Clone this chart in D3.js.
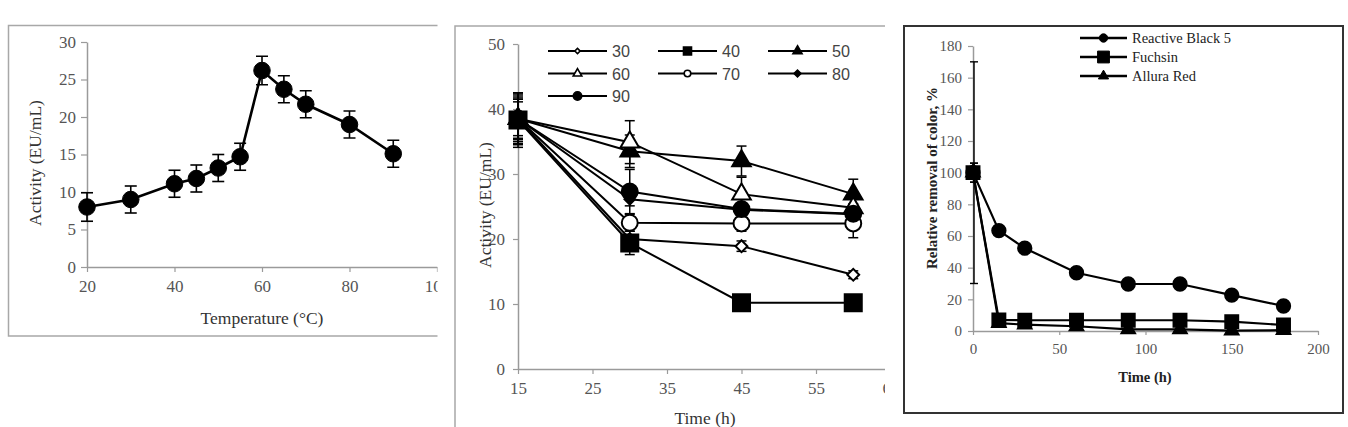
<!DOCTYPE html>
<html>
<head>
<meta charset="utf-8">
<script src="https://cdn.jsdelivr.net/npm/d3@7"></script>
<style>
  body { margin: 0; background: #fff; }
  svg { display: block; }
</style>
</head>
<body>
<div id="chart"></div>
<script>
// ---- panel 1: activity vs temperature
const tempX = [20, 30, 40, 45, 50, 55, 60, 65, 70, 80, 90];
const tempActivity = [8, 9, 11.1, 11.8, 13.2, 14.7, 26.2, 23.7, 21.7, 19, 15.1];
const tempError = [1.9, 1.8, 1.8, 1.8, 1.8, 1.8, 1.9, 1.8, 1.8, 1.8, 1.8];
const tempXTicks = [20, 40, 60, 80, 100];
const tempYTicks = [0, 5, 10, 15, 20, 25, 30];

// ---- panel 2: stability over time at several temperatures
const stabTime = [15, 30, 45, 60];
const stabNames = ["30", "40", "50", "60", "70", "80", "90"];
const stab30 = [38.5, 20, 18.9, 14.5];
const stab40 = [38.3, 19.4, 10.2, 10.2];
const stab50 = [38.5, 33.5, 32, 26.9];
const stab60 = [38.5, 34.9, 26.9, 24.8];
const stab70 = [38.5, 22.5, 22.4, 22.4];
const stab80 = [38.5, 26.1, 24.5, 23.8];
const stab90 = [38.5, 27.3, 24.6, 23.9];
const stabErr30 = [3.5, 0.6, 0.8, 0.6];
const stabErr40 = [4.2, 1.8, 0.4, 0.4];
const stabErr50 = [3.8, 2.5, 2.3, 2.3];
const stabErr60 = [3, 3.3, 2.6, 2.0];
const stabErr70 = [3.2, 1.3, 1.2, 2.2];
const stabErr80 = [2.6, 1, 0.8, 0.8];
const stabErr90 = [4, 3.4, 2.5, 1.5];
const stabXTicks = [15, 25, 35, 45, 55, 65];
const stabYTicks = [0, 10, 20, 30, 40, 50];

// ---- panel 3: dye decolorization
const dyeTime = [0, 15, 30, 60, 90, 120, 150, 180];
const dyeNames = ["Reactive Black 5", "Fuchsin", "Allura Red"];
const rb5 = [100, 63.4, 52.3, 36.8, 29.7, 29.7, 22.7, 15.8];
const fuchsin = [100, 7, 6.8, 6.8, 6.8, 6.8, 5.9, 3.8];
const allura = [100, 5, 4, 3, 1, 1, 0.3, 0.5];
const rb5Err = [6, 3, 0, 0, 0, 0, 0, 0];
const fuchsinErr = [6, 0, 0, 0, 0, 0, 0, 0];
const alluraErr = [70, 0, 0, 0, 0, 0, 0, 0];
const dyeXTicks = [0, 50, 100, 150, 200];
const dyeYTicks = [0, 20, 40, 60, 80, 100, 120, 140, 160, 180];

const W = 1348, H = 427;
const serif = '"Liberation Serif", "Times New Roman", serif';

const svg = d3.select("#chart").append("svg")
  .attr("width", W).attr("height", H);
svg.append("rect").attr("width", W).attr("height", H).attr("fill", "#fff");

const defs = svg.append("defs");
defs.append("clipPath").attr("id", "clip1").append("rect")
  .attr("x", 0).attr("y", 0).attr("width", 437.5).attr("height", H);
defs.append("clipPath").attr("id", "clip2").append("rect")
  .attr("x", 450).attr("y", 0).attr("width", 435).attr("height", H);

// marker shapes
function markerPath(type, size) {
  if (type === "diamond") return d3.symbol(d3.symbolSquare, size)();
  const t = { circle: d3.symbolCircle, square: d3.symbolSquare, triangle: d3.symbolTriangle }[type];
  return d3.symbol(t, size)();
}

function drawMarker(g, x, y, type, size, filled, sw) {
  g.append("path")
    .attr("d", markerPath(type, size))
    .attr("transform", `translate(${x},${y})` + (type === "diamond" ? " rotate(45)" : ""))
    .attr("fill", filled ? "#000" : "#fff")
    .attr("stroke", "#000")
    .attr("stroke-width", sw);
}

function styleAxis(g, fontSize) {
  g.attr("font-family", serif).attr("font-size", fontSize);
  g.select(".domain").attr("stroke", "#9a9a9a").attr("stroke-width", 1.5);
  g.selectAll(".tick line").attr("stroke", "#9a9a9a").attr("stroke-width", 1.2);
  g.selectAll(".tick text").attr("fill", "#555");
}

function errorBar(g, x, y0, y1, half, sw) {
  g.append("line").attr("x1", x).attr("x2", x).attr("y1", y0).attr("y2", y1)
    .attr("stroke", "#000").attr("stroke-width", sw);
  [y0, y1].forEach(yy => {
    g.append("line").attr("x1", x - half).attr("x2", x + half).attr("y1", yy).attr("y2", yy)
      .attr("stroke", "#000").attr("stroke-width", sw);
  });
}

// ================= panel 1 =================
const p1 = svg.append("g").attr("clip-path", "url(#clip1)");
p1.append("path")
  .attr("d", "M438,25.5 L8.5,25.5 L8.5,336 L438,336")
  .attr("fill", "none").attr("stroke", "#a8a8a8").attr("stroke-width", 1.5);

const x1 = d3.scaleLinear().domain([20, 100]).range([87, 437]);
const y1 = d3.scaleLinear().domain([0, 30]).range([267, 42]);

p1.append("g").attr("transform", "translate(87,0)")
  .call(d3.axisLeft(y1).tickValues(tempYTicks).tickSize(6).tickSizeOuter(0).tickPadding(5))
  .call(g => styleAxis(g, 17));
p1.append("g").attr("transform", "translate(0,267)")
  .call(d3.axisBottom(x1).tickValues(tempXTicks).tickSize(5).tickSizeOuter(0).tickPadding(8))
  .call(g => styleAxis(g, 17));

p1.append("text").attr("x", 262).attr("y", 324).attr("text-anchor", "middle")
  .attr("font-family", serif).attr("font-size", 17.5).attr("fill", "#333")
  .text("Temperature (\u00B0C)");
p1.append("text").attr("transform", "translate(41,163) rotate(-90)").attr("text-anchor", "middle")
  .attr("font-family", serif).attr("font-size", 17.5).attr("fill", "#333")
  .text("Activity (EU/mL)");

const tempPts = tempX.map((t, i) => ({ t, v: tempActivity[i], e: tempError[i] }));
tempPts.forEach(d => errorBar(p1, x1(d.t), y1(d.v + d.e), y1(d.v - d.e), 6, 1.6));
p1.append("path").datum(tempPts)
  .attr("d", d3.line().x(d => x1(d.t)).y(d => y1(d.v)))
  .attr("fill", "none").attr("stroke", "#000").attr("stroke-width", 2.6);
tempPts.forEach(d => drawMarker(p1, x1(d.t), y1(d.v), "circle", 215, true, 1));

// ================= panel 2 =================
const p2 = svg.append("g").attr("clip-path", "url(#clip2)");
p2.append("path")
  .attr("d", "M886,26 L455,26 L455,427")
  .attr("fill", "none").attr("stroke", "#a8a8a8").attr("stroke-width", 1.5);

const x2 = d3.scaleLinear().domain([15, 65]).range([518, 890.5]);
const y2 = d3.scaleLinear().domain([0, 50]).range([369, 44]);

p2.append("g").attr("transform", "translate(518,0)")
  .call(d3.axisLeft(y2).tickValues(stabYTicks).tickSize(5).tickSizeOuter(0).tickPadding(8))
  .call(g => styleAxis(g, 17));
p2.append("g").attr("transform", "translate(0,369)")
  .call(d3.axisBottom(x2).tickValues(stabXTicks).tickSize(5).tickSizeOuter(0).tickPadding(8))
  .call(g => styleAxis(g, 17));

p2.append("text").attr("x", 705).attr("y", 424).attr("text-anchor", "middle")
  .attr("font-family", serif).attr("font-size", 17.5).attr("fill", "#333")
  .text("Time (h)");
p2.append("text").attr("transform", "translate(491,205) rotate(-90)").attr("text-anchor", "middle")
  .attr("font-family", serif).attr("font-size", 17.5).attr("fill", "#333")
  .text("Activity (EU/mL)");

const stabSeries = [
  { name: stabNames[0], vals: stab30, err: stabErr30, type: "diamond", filled: false, size: 70, lsize: 14 },
  { name: stabNames[1], vals: stab40, err: stabErr40, type: "square", filled: true, size: 290, lsize: 64 },
  { name: stabNames[2], vals: stab50, err: stabErr50, type: "triangle", filled: true, size: 150, lsize: 36 },
  { name: stabNames[3], vals: stab60, err: stabErr60, type: "triangle", filled: false, size: 150, lsize: 32 },
  { name: stabNames[4], vals: stab70, err: stabErr70, type: "circle", filled: false, size: 200, lsize: 34 },
  { name: stabNames[5], vals: stab80, err: stabErr80, type: "diamond", filled: true, size: 55, lsize: 24 },
  { name: stabNames[6], vals: stab90, err: stabErr90, type: "circle", filled: true, size: 200, lsize: 55 }
];

const line2 = d3.line().x(d => x2(d.t)).y(d => y2(d.v));
stabSeries.forEach(s => {
  const pts = stabTime.map((t, i) => ({ t, v: s.vals[i], e: s.err[i] }));
  pts.forEach(d => { if (d.e > 0) errorBar(p2, x2(d.t), y2(d.v + d.e), y2(d.v - d.e), 5, 1.5); });
  p2.append("path").datum(pts).attr("d", line2)
    .attr("fill", "none").attr("stroke", "#000").attr("stroke-width", 2);
});
// draw markers, the 40 series last so its square sits on top at t=15
[0, 2, 3, 4, 5, 6, 1].forEach(k => {
  const s = stabSeries[k];
  stabTime.forEach((t, i) => drawMarker(p2, x2(t), y2(s.vals[i]), s.type, s.size, s.filled, 2));
});

// legend, 3 columns
const leg2 = p2.append("g");
stabSeries.forEach((s, i) => {
  const col = i % 3, row = Math.floor(i / 3);
  const lx = 548 + col * 110, ly = 51 + row * 22.5;
  leg2.append("line").attr("x1", lx).attr("x2", lx + 59).attr("y1", ly).attr("y2", ly)
    .attr("stroke", "#000").attr("stroke-width", 2);
  drawMarker(leg2, lx + 29.5, ly, s.type, s.lsize, s.filled, 1.6);
  leg2.append("text").attr("x", lx + 64).attr("y", ly + 6)
    .attr("font-family", '"Liberation Sans Narrow", "Liberation Sans", sans-serif')
    .attr("font-size", 16.5).attr("fill", "#444")
    .attr("textLength", 18).attr("lengthAdjust", "spacingAndGlyphs")
    .text(s.name);
});

// ================= panel 3 =================
const p3 = svg.append("g");
p3.append("rect").attr("x", 904).attr("y", 26).attr("width", 439).attr("height", 387)
  .attr("fill", "none").attr("stroke", "#333").attr("stroke-width", 2);

const x3 = d3.scaleLinear().domain([0, 200]).range([973, 1318]);
const y3 = d3.scaleLinear().domain([0, 180]).range([331, 46]);

p3.append("g").attr("transform", "translate(973,0)")
  .call(d3.axisLeft(y3).tickValues(dyeYTicks).tickSize(5).tickSizeOuter(0).tickPadding(6))
  .call(g => styleAxis(g, 15));
p3.append("g").attr("transform", "translate(0,331)")
  .call(d3.axisBottom(x3).tickValues(dyeXTicks).tickSize(4).tickSizeOuter(0).tickPadding(8))
  .call(g => styleAxis(g, 15));

p3.append("text").attr("x", 1145).attr("y", 382).attr("text-anchor", "middle")
  .attr("font-family", serif).attr("font-size", 14.5).attr("font-weight", "bold").attr("fill", "#222")
  .text("Time (h)");
p3.append("text").attr("transform", "translate(937,178) rotate(-90)").attr("text-anchor", "middle")
  .attr("font-family", serif).attr("font-size", 15).attr("font-weight", "bold").attr("fill", "#222")
  .text("Relative removal of color, %");

const dyeSeries = [
  { name: dyeNames[0], vals: rb5, err: rb5Err, type: "circle", size: 150, lsize: 55 },
  { name: dyeNames[1], vals: fuchsin, err: fuchsinErr, type: "square", size: 180, lsize: 140 },
  { name: dyeNames[2], vals: allura, err: alluraErr, type: "triangle", size: 90, lsize: 45 }
];

const line3 = d3.line().x(d => x3(d.t)).y(d => y3(d.v));
dyeSeries.forEach(s => {
  const pts = dyeTime.map((t, i) => ({ t, v: s.vals[i], e: s.err[i] }));
  pts.forEach(d => { if (d.e > 0) errorBar(p3, x3(d.t) + 1, y3(d.v + d.e), y3(d.v - d.e), 4, 1.4); });
  p3.append("path").datum(pts).attr("d", line3)
    .attr("fill", "none").attr("stroke", "#000").attr("stroke-width", 2.2);
});
dyeSeries.forEach(s => {
  dyeTime.forEach((t, i) => drawMarker(p3, x3(t), y3(s.vals[i]), s.type, s.size, true, 1.5));
});

const leg3 = p3.append("g");
dyeSeries.forEach((s, i) => {
  const ly = 38 + i * 19;
  leg3.append("line").attr("x1", 1080).attr("x2", 1127).attr("y1", ly).attr("y2", ly)
    .attr("stroke", "#000").attr("stroke-width", 2.4);
  drawMarker(leg3, 1103.5, ly, s.type, s.lsize, true, 1);
  leg3.append("text").attr("x", 1132).attr("y", ly + 5)
    .attr("font-family", serif).attr("font-size", 14.5).attr("fill", "#222").text(s.name);
});
</script>
</body>
</html>
